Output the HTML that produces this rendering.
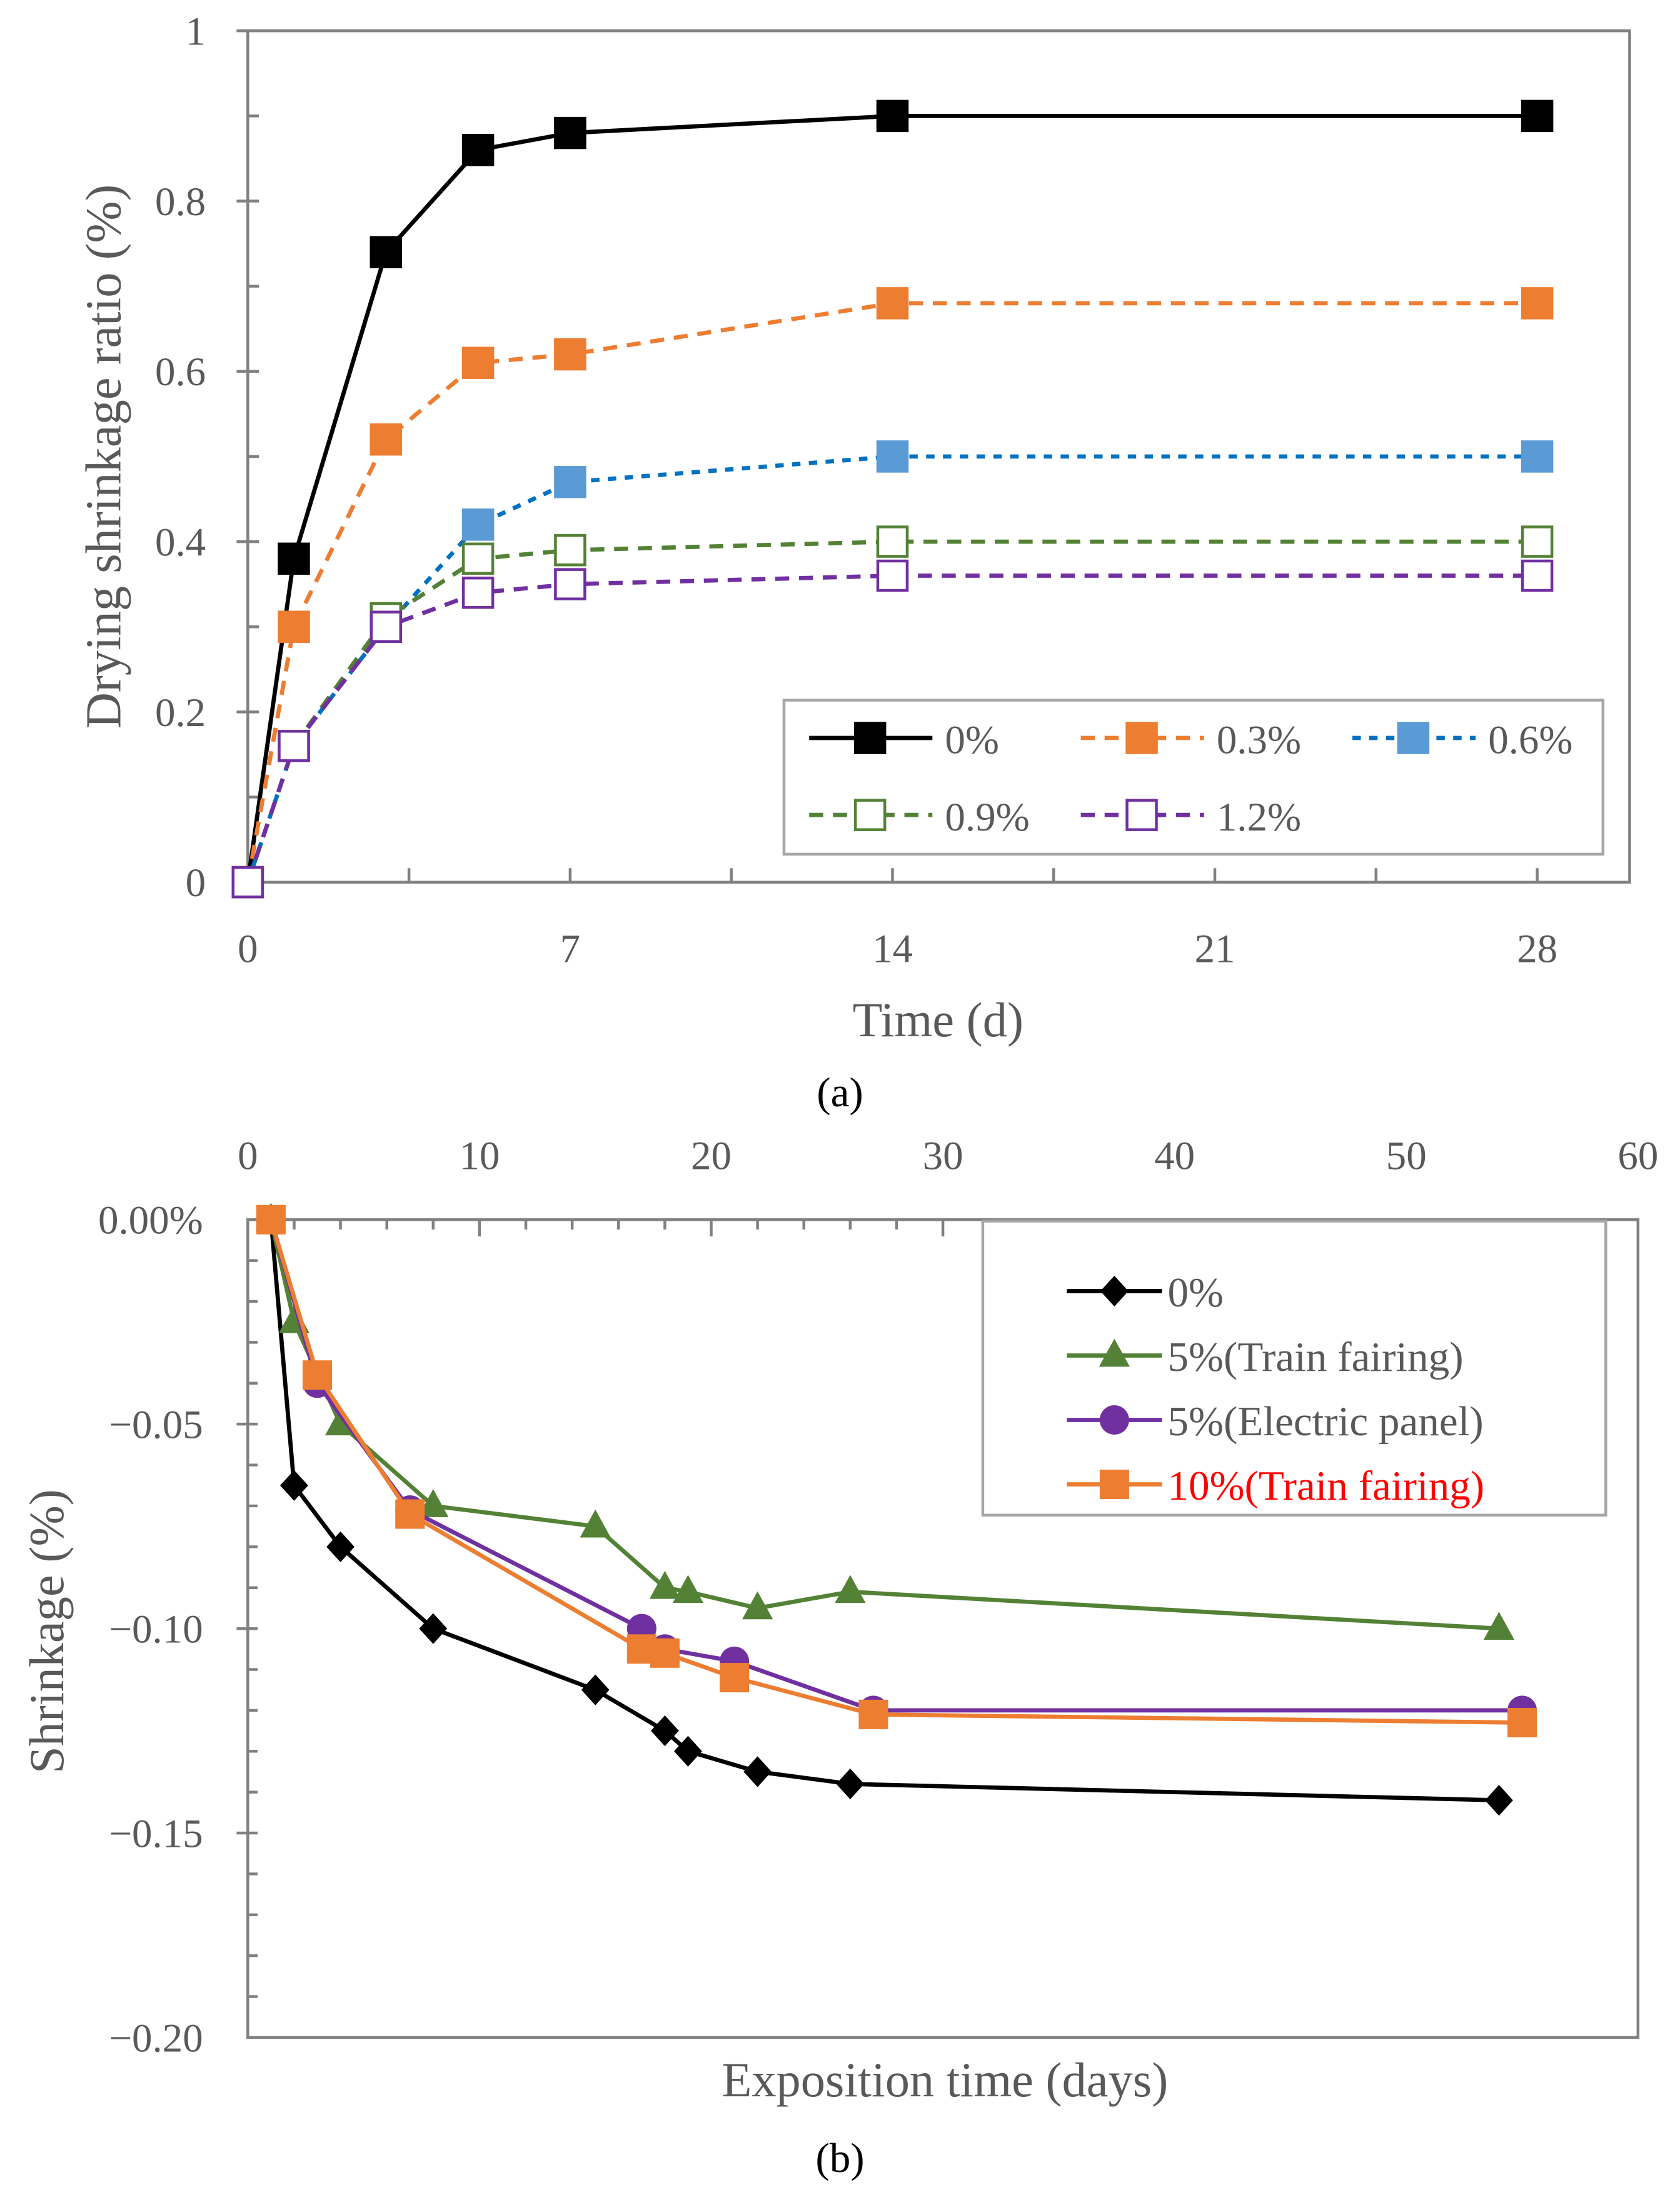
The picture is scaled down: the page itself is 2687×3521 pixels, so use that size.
<!DOCTYPE html>
<html><head><meta charset="utf-8"><style>
html,body{margin:0;padding:0;background:#fff}
svg{display:block}
text{font-family:"Liberation Serif",serif;fill:#595959}
</style></head><body>
<svg id="s" width="2687" height="3521" viewBox="0 0 1200 1572.5" preserveAspectRatio="none" xmlns="http://www.w3.org/2000/svg">
<g id="ga"></g>
<g id="gb"></g>
</svg>
<script>
// ---- Chart (a) data ----
const aDays = [0, 1, 3, 5, 7, 14, 28];
const aS0 = [0, 0.38, 0.74, 0.86, 0.88, 0.90, 0.90];
const aS03 = [0, 0.30, 0.52, 0.61, 0.62, 0.68, 0.68];
const aS06 = [0, 0.16, 0.30, 0.42, 0.47, 0.50, 0.50];
const aS09 = [0, 0.16, 0.31, 0.38, 0.39, 0.40, 0.40];
const aS12 = [0, 0.16, 0.30, 0.34, 0.35, 0.36, 0.36];
const aXTicks = [0, 7, 14, 21, 28];
const aYTicks = [0, 0.2, 0.4, 0.6, 0.8, 1];
const aYLabels = ["0", "0.2", "0.4", "0.6", "0.8", "1"];
// ---- Chart (b) data ----
const bX0 = [1, 2, 4, 8, 15, 18, 19, 22, 26, 54];
const bY0 = [0, -0.065, -0.08, -0.10, -0.115, -0.125, -0.13, -0.135, -0.138, -0.142];
const bXT = [1, 2, 4, 8, 15, 18, 19, 22, 26, 54];
const bYT = [0, -0.025, -0.05, -0.07, -0.075, -0.09, -0.091, -0.095, -0.091, -0.10];
const bXE = [1, 3, 7, 17, 18, 21, 27, 55];
const bYE = [0, -0.04, -0.071, -0.10, -0.105, -0.108, -0.12, -0.12];
const bX10 = [1, 3, 7, 17, 18, 21, 27, 55];
const bY10 = [0, -0.038, -0.072, -0.105, -0.106, -0.112, -0.121, -0.123];
const bXTicks = [0, 10, 20, 30, 40, 50, 60];
const bYTicks = [0, -0.05, -0.10, -0.15, -0.20];
const bYLabels = ["0.00%", "\u22120.05", "\u22120.10", "\u22120.15", "\u22120.20"];

const NS = "http://www.w3.org/2000/svg";
function mk(parent, tag, attrs, txt){
  const e = document.createElementNS(NS, tag);
  for (const k in attrs) e.setAttribute(k, attrs[k]);
  if (txt !== undefined) e.textContent = txt;
  parent.appendChild(e);
  return e;
}
const G = "#808080";
const LW = 3;

// ===== Chart A =====
const ga = document.getElementById('ga');
const aL=177, aR=1164, aT=22, aB=630;
const ax = d => aL + d * (1098 - 177) / 28;
const ay = v => aB - v * (aB - aT);
let r = mk(ga,'rect',{x:aL,y:aT,width:aR-aL,height:aB-aT,fill:'none',stroke:G,'stroke-width':2});
 
for (let d=3.5; d<30; d+=3.5){ const l=mk(ga,'line',{x1:ax(d),x2:ax(d),y1:aB,y2:aB-10,stroke:G,'stroke-width':2});   }
for (let v=0.1; v<1; v+=0.1){ const l=mk(ga,'line',{x1:aL,x2:aL+8,y1:ay(v),y2:ay(v),stroke:G,'stroke-width':2});   }
aYTicks.forEach((v,i)=>{
  const l=mk(ga,'line',{x1:aL-8,x2:aL,y1:ay(v),y2:ay(v),stroke:G,'stroke-width':2});
   
  const t=mk(ga,'text',{x:aL-30,y:ay(v)+10,'text-anchor':'end','font-size':29},aYLabels[i]);
   
});
aXTicks.forEach(d=>{
  const t=mk(ga,'text',{x:ax(d),y:687,'text-anchor':'middle','font-size':29},String(d));
   
});
let tt=mk(ga,'text',{x:670,y:740,'text-anchor':'middle','font-size':35},'Time (d)');
 
tt=mk(ga,'text',{x:0,y:0,'text-anchor':'middle','font-size':36,transform:'translate(86,326) rotate(-90)'},'Drying shrinkage ratio (%)');
 
tt=mk(ga,'text',{x:600,y:790,'text-anchor':'middle','font-size':30,style:'fill:#000'},'(a)');
 

const aSeries = [
  {v:aS0, c:'#000000', dash:'', fill:'#000000', n:'series-0pct'},
  {v:aS03, c:'#ED7D31', dash:'10,7', fill:'#ED7D31', n:'series-0.3pct'},
  {v:aS06, c:'#0070C0', dash:'6,6', fill:'#5B9BD5', n:'series-0.6pct'},
  {v:aS09, c:'#538135', dash:'10,7', fill:'#fff', n:'series-0.9pct'},
  {v:aS12, c:'#7030A0', dash:'10,7', fill:'#fff', n:'series-1.2pct'},
];
aSeries.forEach(s=>{
  const g=mk(ga,'g',{});  
  const pts=aDays.map((d,i)=>ax(d)+','+ay(s.v[i])).join(' ');
  mk(g,'polyline',{points:pts,fill:'none',stroke:s.c,'stroke-width':LW,'stroke-dasharray':s.dash});
  aDays.forEach((d,i)=>{
    const m=mk(g,'rect',{x:ax(d)-10.5,y:ay(s.v[i])-10.5,width:21,height:21,fill:s.fill,stroke:s.c==='#0070C0'?'#5B9BD5':s.c,'stroke-width':2});
     
  });
});
// legend a
const la=mk(ga,'g',{});  
mk(la,'rect',{x:560,y:500,width:585,height:110,fill:'#fff',stroke:'#A6A6A6','stroke-width':2});
const aLeg=[[578,527,0,'0%'],[772,527,1,'0.3%'],[966,527,2,'0.6%'],[578,582,3,'0.9%'],[772,582,4,'1.2%']];
aLeg.forEach(e=>{
  const s=aSeries[e[2]];
  const g=mk(la,'g',{});  
  mk(g,'line',{x1:e[0],x2:e[0]+88,y1:e[1],y2:e[1],stroke:s.c,'stroke-width':LW,'stroke-dasharray':s.dash});
  mk(g,'rect',{x:e[0]+33,y:e[1]-10.5,width:21,height:21,fill:s.fill,stroke:s.c==='#0070C0'?'#5B9BD5':s.c,'stroke-width':2});
  mk(g,'text',{x:e[0]+97,y:e[1]+11,'font-size':29},e[3]);
});

// ===== Chart B =====
const gb=document.getElementById('gb');
const bL=177, bR=1170, bT=871, bB=1455;
const bx = d => bL + d*(bR-bL)/60;
const by = v => bT + (-v)*(bB-bT)/0.20;
r=mk(gb,'rect',{x:bL,y:bT,width:bR-bL,height:bB-bT,fill:'none',stroke:G,'stroke-width':2});
 
for(let d=2; d<60; d+=2){ const l=mk(gb,'line',{x1:bx(d),x2:bx(d),y1:bT,y2:bT+(d%10===0?12:7),stroke:G,'stroke-width':2});   }
for(let k=1;k<20;k++){ const v=-k*0.01; const l=mk(gb,'line',{x1:bL-(k%5===0?8:0),x2:bL+7,y1:by(v),y2:by(v),stroke:G,'stroke-width':2});   }
bXTicks.forEach(d=>{
  const t=mk(gb,'text',{x:bx(d),y:835,'text-anchor':'middle','font-size':29},String(d));
   
});
bYTicks.forEach((v,i)=>{
  const t=mk(gb,'text',{x:bL-32,y:by(v)+10,'text-anchor':'end','font-size':29},bYLabels[i]);
   
});
tt=mk(gb,'text',{x:675,y:1497,'text-anchor':'middle','font-size':35},'Exposition time (days)');
 
tt=mk(gb,'text',{x:0,y:0,'text-anchor':'middle','font-size':35,transform:'translate(45,1165) rotate(-90)'},'Shrinkage (%)');
 
tt=mk(gb,'text',{x:600,y:1551,'text-anchor':'middle','font-size':30,style:'fill:#000'},'(b)');
 

function marker(g,type,x,y,c){
  if(type==='diamond') return mk(g,'polygon',{points:`${x},${y-11} ${x+10},${y} ${x},${y+11} ${x-10},${y}`,fill:c});
  if(type==='tri') return mk(g,'polygon',{points:`${x},${y-12} ${x+11},${y+8} ${x-11},${y+8}`,fill:c});
  if(type==='circle') return mk(g,'circle',{cx:x,cy:y,r:10.5,fill:c});
  return mk(g,'rect',{x:x-10.5,y:y-10.5,width:21,height:21,fill:c});
}
const bSeries=[
  {x:bX0,y:bY0,c:'#000000',m:'diamond',n:'series-0pct-b',l:'0%',lc:'#595959'},
  {x:bXT,y:bYT,c:'#538135',m:'tri',n:'series-5pct-train-fairing',l:'5%(Train fairing)',lc:'#595959'},
  {x:bXE,y:bYE,c:'#7030A0',m:'circle',n:'series-5pct-electric-panel',l:'5%(Electric panel)',lc:'#595959'},
  {x:bX10,y:bY10,c:'#ED7D31',m:'square',n:'series-10pct-train-fairing',l:'10%(Train fairing)',lc:'#FF0000'},
];
bSeries.forEach(s=>{
  const g=mk(gb,'g',{});  
  mk(g,'polyline',{points:s.x.map((d,i)=>bx(d)+','+by(s.y[i])).join(' '),fill:'none',stroke:s.c,'stroke-width':LW});
  s.x.forEach((d,i)=>{ const m=marker(g,s.m,bx(d),by(s.y[i]),s.c);   });
});
const lb=mk(gb,'g',{});  
mk(lb,'rect',{x:702,y:872,width:445,height:210,fill:'#fff',stroke:'#A6A6A6','stroke-width':2});
bSeries.forEach((s,i)=>{
  const y=922+i*46;
  const g=mk(lb,'g',{});  
  mk(g,'line',{x1:762,x2:830,y1:y,y2:y,stroke:s.c,'stroke-width':LW});
  marker(g,s.m,796,y,s.c);
  const t=mk(g,'text',{x:834,y:y+11,'font-size':30},s.l);
  t.setAttribute('style','fill:'+s.lc);
});
</script>
</body></html>
